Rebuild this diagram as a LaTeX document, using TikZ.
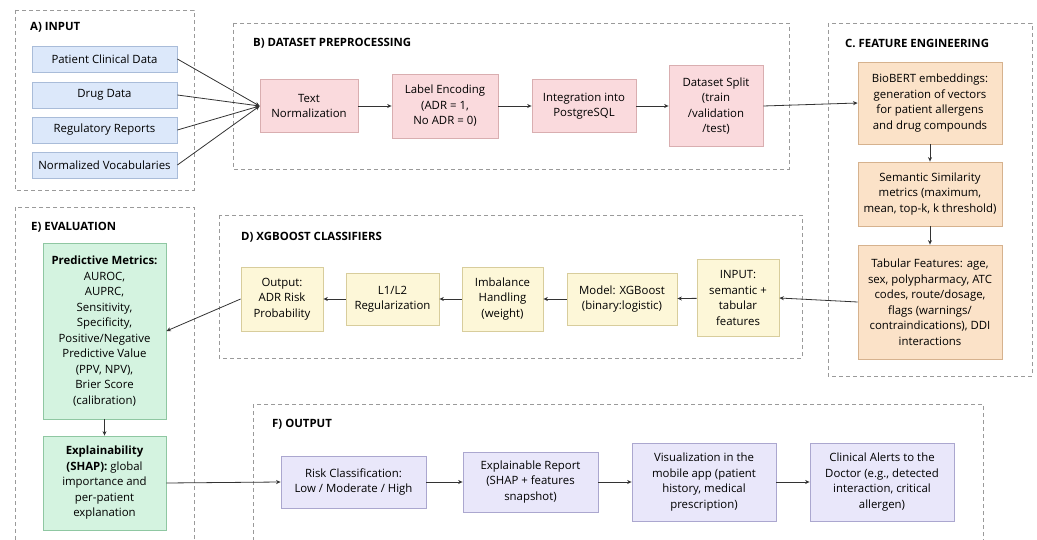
\documentclass[tikz,border=0pt]{standalone}
\usepackage{fontspec}
\setmainfont{Open Sans}
\usepackage{tikz}
\usetikzlibrary{arrows.meta,positioning,calc}

\definecolor{inputfill}{HTML}{DCE8FA}
\definecolor{inputdraw}{HTML}{A9BCD9}
\definecolor{prepfill}{HTML}{FADADD}
\definecolor{prepdraw}{HTML}{D9AEB0}
\definecolor{featfill}{HTML}{FBE2C8}
\definecolor{featdraw}{HTML}{D6B28E}
\definecolor{xgbfill}{HTML}{FDF7D8}
\definecolor{xgbdraw}{HTML}{D8CD9C}
\definecolor{evalfill}{HTML}{D4F3E0}
\definecolor{evaldraw}{HTML}{8FC7A2}
\definecolor{outfill}{HTML}{E9E7FA}
\definecolor{outdraw}{HTML}{ABA7CF}
\definecolor{framegray}{HTML}{9A9A9A}
\definecolor{flowgray}{HTML}{333333}

\begin{document}
\begin{tikzpicture}[
    x=1pt, y=-1pt,
    >={Stealth[length=4.5pt,width=4pt]},
    box/.style={
        rectangle,
        align=center,
        inner sep=2pt,
        line width=0.8pt,
        font=\fontsize{11.4}{15.5}\selectfont
    },
    inbox/.style={box, draw=inputdraw, fill=inputfill},
    prepbox/.style={box, draw=prepdraw, fill=prepfill},
    featbox/.style={box, draw=featdraw, fill=featfill},
    xgbbox/.style={box, draw=xgbdraw, fill=xgbfill},
    evalbox/.style={box, draw=evaldraw, fill=evalfill},
    outbox/.style={box, draw=outdraw, fill=outfill},
    stage/.style={draw=framegray, line width=0.8pt, dash pattern=on 4pt off 3pt},
    stagetitle/.style={anchor=west, inner sep=0pt, font=\fontsize{11.4}{13}\selectfont\bfseries},
    flow/.style={->, line width=0.8pt, flowgray}
]

\clip (0,0) rectangle (1037,540);
\fill[white] (0,0) rectangle (1037,540);

% ==================== Stage frames ====================
\draw[stage] (15,10) rectangle (194,190);
\draw[stage] (233,23) rectangle (789,169);
\draw[stage] (828,23) rectangle (1032,376);
\draw[stage] (219,215) rectangle (802,358);
\draw[stage] (15,207) rectangle (194,560);
\draw[stage] (253,404) rectangle (983,560);

\node[stagetitle] (ttlA) at (30,27)  {A) INPUT};
\node[stagetitle] (ttlB) at (253,43) {B) DATASET PREPROCESSING};
\node[stagetitle] (ttlC) at (845,43) {C. FEATURE ENGINEERING};
\node[stagetitle] (ttlD) at (241,237) {D) XGBOOST CLASSIFIERS};
\node[stagetitle] (ttlE) at (31,227) {E) EVALUATION};
\node[stagetitle] (ttlF) at (272,424) {F) OUTPUT};

% ==================== A) Input sources ====================
\node[inbox, minimum width=145pt, minimum height=26pt] (clin)  at (104.5,59)  {Patient Clinical Data};
\node[inbox, minimum width=145pt, minimum height=26pt] (drug)  at (104.5,95)  {Drug Data};
\node[inbox, minimum width=145pt, minimum height=26pt] (regul) at (104.5,130) {Regulatory Reports};
\node[inbox, minimum width=145pt, minimum height=26pt] (vocab) at (104.5,165) {Normalized Vocabularies};

% ==================== B) Preprocessing ====================
\node[prepbox, minimum width=98pt, minimum height=53pt]  (txtnorm) at (309,106) {Text\\Normalization};
\node[prepbox, minimum width=106pt, minimum height=64pt] (labenc)  at (445,106) {Label Encoding\\(ADR = 1,\\No ADR = 0)};
\node[prepbox, minimum width=104pt, minimum height=53pt] (pgsql)   at (584,106) {Integration into\\PostgreSQL};
\node[prepbox, minimum width=94pt, minimum height=81pt]  (split)   at (716,106) {Dataset Split\\(train\\/validation\\/test)};

\foreach \n in {clin,drug,regul,vocab} {
  \draw[flow] (\n.east) -- (txtnorm.west);
}
\draw[flow] (txtnorm) -- (labenc);
\draw[flow] (labenc) -- (pgsql);
\draw[flow] (pgsql) -- (split);

% ==================== C) Feature engineering ====================
\node[featbox, minimum width=144pt, minimum height=82pt]  (biobert) at (930,103) {BioBERT embeddings:\\generation of vectors\\for patient allergens\\and drug compounds};
\node[featbox, minimum width=144pt, minimum height=64pt]  (semsim)  at (930,194) {Semantic Similarity\\metrics (maximum,\\mean, top-k, k threshold)};
\node[featbox, minimum width=144pt, minimum height=114pt] (tabular) at (930,302) {Tabular Features: age,\\sex, polypharmacy, ATC\\codes, route/dosage,\\flags (warnings/\\contraindications), DDI\\interactions};

\draw[flow] (split.east) -- (biobert.west);
\draw[flow] (biobert) -- (semsim);
\draw[flow] (semsim) -- (tabular);

% ==================== D) XGBoost classifiers ====================
\node[xgbbox, minimum width=82pt, minimum height=77pt]  (xin)     at (738,298) {INPUT:\\semantic +\\tabular\\features};
\node[xgbbox, minimum width=110pt, minimum height=52pt] (model)   at (622,299) {Model: XGBoost\\(binary:logistic)};
\node[xgbbox, minimum width=81pt, minimum height=64pt]  (imbal)   at (502.5,299) {Imbalance\\Handling\\(weight)};
\node[xgbbox, minimum width=93pt, minimum height=52pt]  (regular) at (392.5,299) {L1/L2\\Regularization};
\node[xgbbox, minimum width=82pt, minimum height=64pt]  (riskout) at (282,299) {Output:\\ADR Risk\\Probability};

\draw[flow] (tabular.west) -- (xin.east);
\draw[flow] (xin) -- (model);
\draw[flow] (model) -- (imbal);
\draw[flow] (imbal) -- (regular);
\draw[flow] (regular) -- (riskout);

% ==================== E) Evaluation ====================
\node[evalbox, minimum width=123pt, minimum height=176pt] (metrics) at (104.5,331) {\textbf{Predictive Metrics:}\\AUROC,\\AUPRC,\\Sensitivity,\\Specificity,\\Positive/Negative\\Predictive Value\\(PPV, NPV),\\Brier Score\\(calibration)};
\node[evalbox, minimum width=123pt, minimum height=94pt]  (shap)    at (104.5,483) {\textbf{Explainability}\\\textbf{(SHAP):} global\\importance and\\per-patient\\explanation};

\draw[flow] (riskout.west) -- (metrics.east);
\draw[flow] (metrics) -- (shap);

% ==================== F) Output ====================
\node[outbox, minimum width=145pt, minimum height=52pt] (riskcls) at (353.5,482) {Risk Classification:\\Low / Moderate / High};
\node[outbox, minimum width=135pt, minimum height=60pt] (report)  at (530.5,482) {Explainable Report\\(SHAP + features\\snapshot)};
\node[outbox, minimum width=144pt, minimum height=78pt] (mobile)  at (704,482)   {Visualization in the\\mobile app (patient\\history, medical\\prescription)};
\node[outbox, minimum width=144pt, minimum height=78pt] (alerts)  at (882,482)   {Clinical Alerts to the\\Doctor (e.g., detected\\interaction, critical\\allergen)};

\draw[flow] (shap.east) -- (riskcls.west);
\draw[flow] (riskcls) -- (report);
\draw[flow] (report) -- (mobile);
\draw[flow] (mobile) -- (alerts);

\end{tikzpicture}
\end{document}
